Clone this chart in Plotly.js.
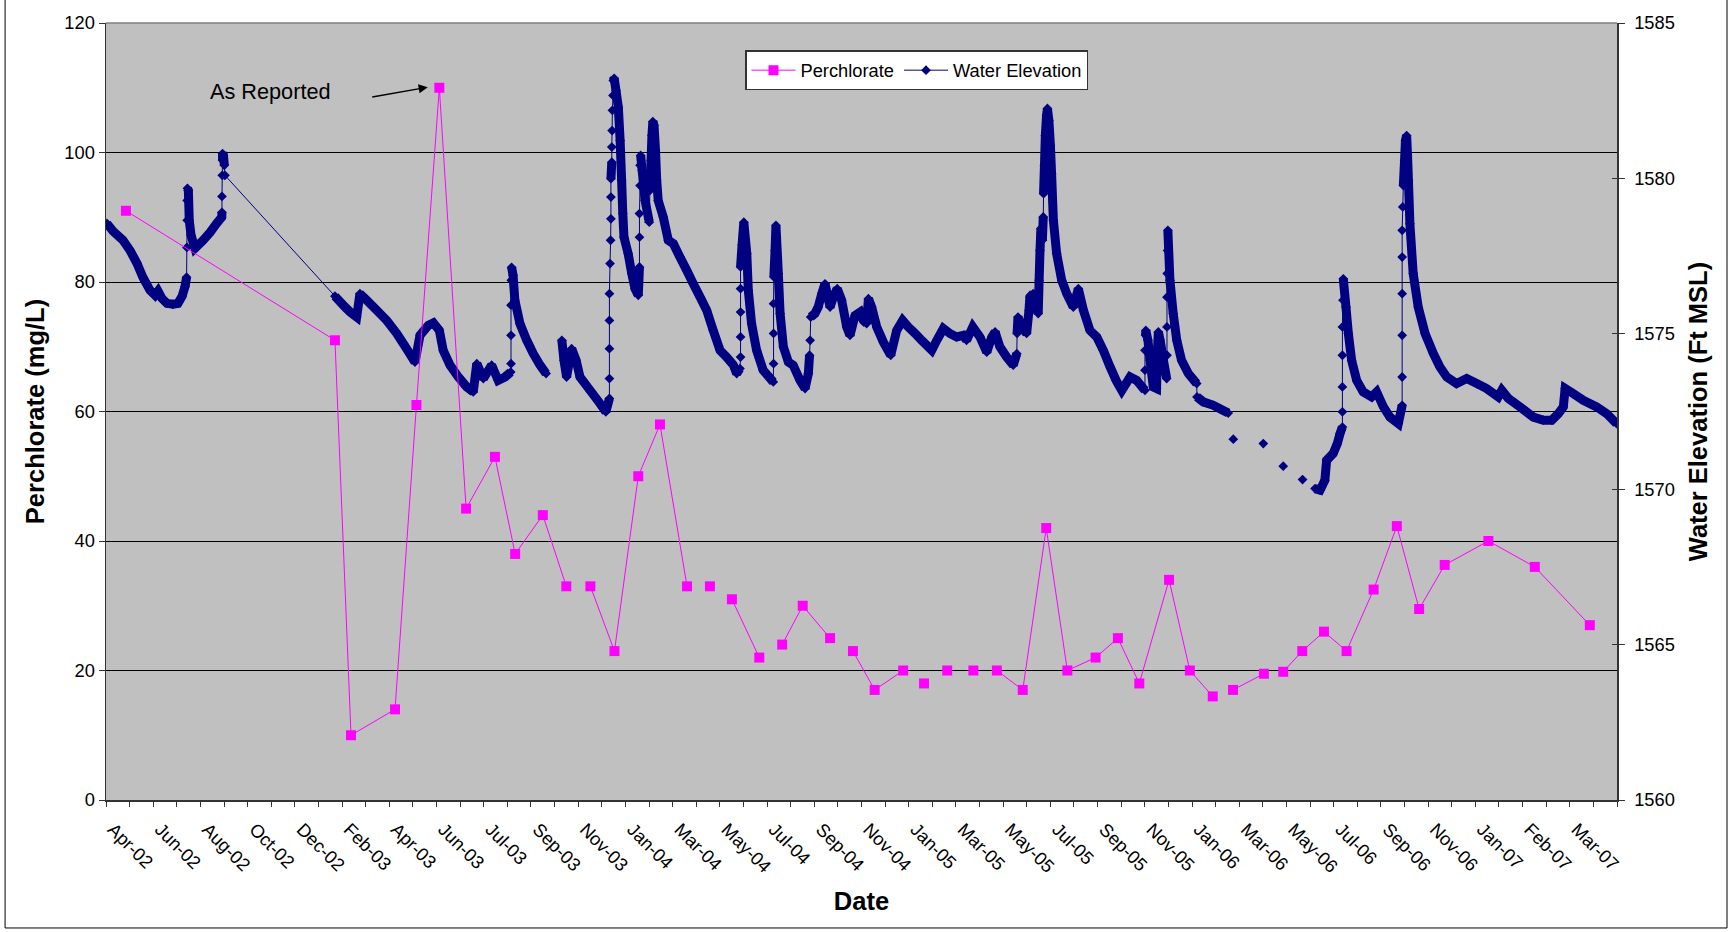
<!DOCTYPE html>
<html>
<head>
<meta charset="utf-8">
<script src="https://cdn.plot.ly/plotly-3.0.1.min.js"></script>
<style>
html,body{margin:0;padding:0;background:#ffffff;}
#chart{width:1732px;height:932px;}
</style>
</head>
<body>
<div id="chart"></div>
<script>
// ---------- axis definition (date axis expressed in decimal years) ----------
const axisStartYear = 2002.277;          // left edge of the date axis
const tickStepYears = 29 / 365.25;       // one tick mark every 29 days
const tickCount = 64;                    // tick intervals across the axis

const dateLabels = ['Apr-02','Jun-02','Aug-02','Oct-02','Dec-02','Feb-03','Apr-03','Jun-03',
  'Jul-03','Sep-03','Nov-03','Jan-04','Mar-04','May-04','Jul-04','Sep-04','Nov-04','Jan-05',
  'Mar-05','May-05','Jul-05','Sep-05','Nov-05','Jan-06','Mar-06','May-06','Jul-06','Sep-06',
  'Nov-06','Jan-07','Feb-07','Mar-07'];

const perchTicks = [0, 20, 40, 60, 80, 100, 120];
const elevTicks = [1560, 1565, 1570, 1575, 1580, 1585];

// ---------- Perchlorate (mg/L), null = break in the line ----------
const perchYear = [2002.344, 2003.047, 2003.101, 2003.249, 2003.321, 2003.398, 2003.488, 2003.585,
  2003.653, 2003.746, 2003.825, null, 2003.906, 2003.987, 2004.067, 2004.140, 2004.231, null,
  2004.308, null, 2004.382, 2004.474, null, 2004.551, 2004.620, 2004.712, null, 2004.789,
  2004.862, 2004.958, null, 2005.028, null, 2005.106, null, 2005.194, null, 2005.273, 2005.360,
  2005.439, 2005.510, 2005.605, 2005.680, 2005.752, 2005.852, 2005.922, 2005.999, null,
  2006.067, 2006.171, null, 2006.236, 2006.300, 2006.373, 2006.449, 2006.540, 2006.618,
  2006.693, 2006.779, 2006.926, 2007.082, 2007.267];
const perchValue = [91, 71, 10, 14, 61, 110, 45, 53,
  38, 44, 33, null, 33, 23, 50, 58, 33, null,
  33, null, 31, 22, null, 24, 30, 25, null, 23,
  17, 20, null, 18, null, 20, null, 20, null, 20, 17,
  42, 20, 22, 25, 18, 34, 20, 16, null,
  17, 19.5, null, 19.8, 23, 26, 23, 32.5, 42.3,
  29.5, 36.3, 40, 36, 27];

// ---------- Water elevation (ft MSL), null = break in the line ----------
const waterYear = [
  2002.280,2002.301,2002.334,2002.358,2002.381,2002.401,2002.425,2002.442,2002.452,2002.465,
  2002.482,2002.502,2002.519,2002.533,2002.543,2002.548,2002.549,2002.550,2002.550,2002.551,
  2002.554,2002.557,2002.563,2002.576,2002.604,2002.627,2002.649,2002.666,2002.667,2002.667,
  2002.668,2002.669,2002.669,2002.672,2002.675,2002.677,2003.047,
  2003.081,2003.098,2003.120,2003.131,2003.154,2003.187,2003.221,2003.255,2003.288,2003.316,
  2003.333,2003.361,2003.378,2003.398,2003.411,2003.434,2003.462,2003.490,2003.512,2003.524,
  2003.546,2003.574,2003.596,2003.619,2003.638,2003.639,2003.639,2003.639,2003.640,2003.641,
  2003.646,2003.652,2003.669,2003.692,2003.714,2003.737,2003.757,null,
  2003.810,2003.817,2003.826,2003.843,2003.858,2003.871,2003.905,2003.938,2003.958,2003.970,
  2003.970,2003.970,2003.970,2003.970,2003.972,2003.974,2003.975,2003.975,2003.975,2003.978,
  2003.978,2003.979,2003.980,2003.982,2003.983,2003.986,2003.992,2004.000,2004.006,2004.011,
  2004.015,2004.019,2004.033,2004.045,2004.056,2004.067,2004.071,2004.071,2004.071,2004.073,
  2004.073,2004.075,2004.080,2004.090,2004.104,2004.106,2004.110,2004.113,2004.116,2004.120,
  2004.125,2004.129,2004.134,2004.151,2004.168,2004.185,2004.207,2004.230,2004.252,2004.275,
  2004.297,2004.319,2004.342,2004.364,2004.387,2004.398,2004.409,2004.411,2004.411,2004.411,
  2004.411,2004.411,2004.416,2004.422,2004.432,2004.437,2004.448,2004.465,2004.487,2004.521,
  2004.522,2004.522,2004.522,2004.523,2004.527,2004.530,2004.538,2004.544,2004.555,2004.572,
  2004.588,2004.611,2004.628,2004.639,2004.643,2004.645,2004.647,2004.661,2004.672,2004.684,
  2004.695,2004.712,2004.723,2004.736,2004.751,2004.768,2004.779,2004.796,2004.813,2004.824,
  2004.835,2004.841,2004.852,2004.869,2004.891,2004.916,2004.936,2004.956,2004.975,2004.998,
  2005.020,2005.037,2005.054,2005.071,2005.093,2005.115,2005.138,2005.160,2005.171,2005.192,
  2005.216,2005.239,2005.256,2005.267,2005.283,2005.306,2005.328,2005.340,2005.341,2005.344,
  2005.357,2005.373,2005.381,2005.384,2005.395,2005.405,2005.412,2005.415,2005.418,2005.421,
  2005.426,2005.429,2005.430,2005.433,2005.436,2005.440,2005.443,2005.448,2005.453,2005.457,
  2005.463,2005.474,2005.491,2005.508,2005.530,2005.547,2005.564,2005.586,2005.609,2005.631,
  2005.653,2005.674,2005.693,2005.721,2005.743,2005.771,2005.771,2005.771,2005.773,2005.774,
  2005.781,2005.788,2005.799,2005.810,2005.813,2005.816,2005.822,2005.833,2005.844,2005.845,
  2005.845,2005.845,2005.846,2005.847,2005.848,2005.855,2005.866,2005.878,2005.894,2005.917,
  2005.945,2005.946,2005.967,2006.001,2006.023,2006.051,null,
  2006.068,null,2006.169,null,2006.236,null,2006.301,null,
  2006.343,2006.360,2006.376,2006.382,2006.404,2006.418,2006.427,2006.435,2006.435,2006.435,
  2006.435,2006.435,2006.437,2006.438,2006.447,2006.455,2006.466,2006.483,2006.505,2006.533,
  2006.550,2006.573,2006.595,2006.623,2006.636,2006.636,2006.636,2006.636,2006.636,2006.636,
  2006.638,2006.640,2006.644,2006.647,2006.651,2006.654,2006.657,2006.662,2006.673,2006.690,
  2006.713,2006.741,2006.763,2006.786,2006.819,2006.853,2006.887,2006.920,2006.959,2006.971,
  2006.993,2007.032,2007.077,2007.111,2007.139,2007.161,2007.178,2007.184,2007.211,2007.245,
  2007.290,2007.324,2007.357];
const waterElev = [
  1578.55,1578.30,1578.01,1577.68,1577.27,1576.82,1576.40,1576.24,1576.37,1576.14,
  1575.98,1575.95,1575.98,1576.21,1576.53,1576.82,1577.78,1578.65,1579.29,1579.68,
  1579.61,1578.65,1578.17,1577.75,1578.01,1578.26,1578.55,1578.75,1578.91,1579.42,
  1580.10,1580.58,1580.80,1580.74,1580.42,1580.10,1576.21,
  1575.86,1575.70,1575.54,1576.29,1576.08,1575.76,1575.43,1575.01,1574.52,1574.09,
  1574.95,1575.27,1575.35,1575.11,1574.47,1573.99,1573.61,1573.29,1573.13,1574.04,
  1573.56,1573.99,1573.50,1573.61,1573.77,1574.04,1574.95,1575.92,1576.72,1577.14,
  1576.88,1576.08,1575.33,1574.79,1574.36,1573.99,1573.72,null,
  1574.79,1574.15,1573.61,1574.52,1574.15,1573.61,1573.18,1572.76,1572.49,1572.92,
  1573.56,1574.52,1575.43,1576.29,1577.26,1578.01,1578.70,1579.40,1579.99,1580.52,
  1581.01,1581.54,1582.19,1582.67,1583.15,1583.22,1582.83,1582.29,1581.22,1579.94,
  1578.87,1578.11,1577.58,1576.94,1576.45,1576.24,1577.15,1578.11,1578.87,1579.77,
  1580.42,1580.74,1580.26,1579.29,1578.59,1579.61,1580.58,1581.38,1581.83,1581.70,
  1580.90,1579.94,1579.29,1578.76,1578.01,1577.90,1577.47,1577.04,1576.61,1576.18,
  1575.76,1575.11,1574.47,1574.25,1573.99,1573.72,1573.88,1574.25,1574.90,1575.70,
  1576.45,1577.15,1577.85,1578.59,1577.58,1576.40,1575.33,1574.47,1573.83,1573.45,
  1574.04,1575.01,1575.97,1576.83,1577.68,1578.49,1576.94,1575.65,1574.58,1574.09,
  1573.99,1573.50,1573.24,1573.72,1574.31,1574.79,1575.54,1575.65,1575.86,1576.29,
  1576.61,1575.86,1576.18,1576.45,1576.08,1575.22,1574.95,1575.59,1575.70,1575.43,
  1575.33,1576.13,1575.86,1575.22,1574.74,1574.31,1575.11,1575.43,1575.22,1575.01,
  1574.79,1574.63,1574.47,1574.79,1575.17,1575.01,1574.90,1574.95,1574.79,1575.22,
  1574.90,1574.41,1574.90,1575.06,1574.58,1574.25,1573.99,1574.36,1575.01,1575.54,
  1575.22,1575.01,1575.76,1576.18,1576.29,1575.92,1575.65,1576.72,1577.68,1578.39,
  1578.01,1578.76,1579.51,1580.42,1581.38,1582.03,1582.25,1581.86,1581.06,1580.15,
  1578.65,1577.58,1576.72,1576.29,1575.86,1576.45,1575.76,1575.11,1574.90,1574.47,
  1573.95,1573.50,1573.18,1573.61,1573.50,1573.18,1573.83,1574.47,1574.95,1575.11,
  1574.79,1574.15,1573.29,1573.24,1574.47,1575.06,1574.79,1574.15,1573.56,1574.31,
  1575.22,1576.18,1576.94,1577.68,1578.33,1576.72,1575.65,1574.79,1574.15,1573.72,
  1573.40,1572.97,1572.81,1572.70,1572.59,1572.45,null,
  1571.61,null,1571.47,null,1570.74,null,1570.31,null,
  1570.02,1569.97,1570.29,1570.93,1571.15,1571.47,1571.79,1572.00,1572.49,1573.29,
  1574.31,1575.22,1576.08,1576.77,1575.86,1575.01,1574.15,1573.50,1573.13,1572.97,
  1573.13,1572.65,1572.32,1572.11,1572.70,1573.61,1574.95,1576.29,1577.47,1578.33,
  1579.08,1579.77,1580.58,1581.22,1581.38,1580.74,1579.94,1578.54,1576.94,1575.86,
  1575.01,1574.36,1573.93,1573.61,1573.40,1573.56,1573.40,1573.24,1572.97,1573.18,
  1572.92,1572.65,1572.32,1572.22,1572.22,1572.43,1572.65,1573.24,1573.08,1572.86,
  1572.65,1572.43,1572.11];

// ---------- styling helpers ----------
const FONT = 'Liberation Sans, Arial, Helvetica, sans-serif';
const NAVY = '#000080';
const MAGENTA = '#FF00FF';
const x0 = axisStartYear;
const x1 = axisStartYear + tickCount * tickStepYears;

const xTickVals = [], xTickText = [];
for (let k = 0; k <= tickCount; k++) {
  xTickVals.push(x0 + k * tickStepYears);
  xTickText.push(k % 2 === 0 && dateLabels[k / 2] ? dateLabels[k / 2] : '');
}

// Dense logger readings render as a solid band of overlapping markers in the
// original; reproduce that band with a thick stroke, leaving thin connectors
// where readings jump quickly or are far apart in time.
const bandX = [], bandY = [];
for (let i = 0; i < waterYear.length; i++) {
  if (waterYear[i] === null) { bandX.push(null); bandY.push(null); continue; }
  bandX.push(waterYear[i]); bandY.push(waterElev[i]);
  const j = i + 1;
  if (j < waterYear.length && waterYear[j] !== null) {
    const dt = waterYear[j] - waterYear[i];
    const dz = waterElev[j] - waterElev[i];
    if (dt > 0.06 || (dt < 0.0025 && Math.abs(dz) > 0.25)) { bandX.push(null); bandY.push(null); }
  }
}

const traces = [
  { x: bandX, y: bandY, yaxis: 'y', type: 'scatter', mode: 'lines',
    line: { color: NAVY, width: 9, simplify: false }, showlegend: false, hoverinfo: 'skip' },
  { x: waterYear, y: waterElev, yaxis: 'y', type: 'scatter', mode: 'lines+markers',
    name: 'Water Elevation', legendrank: 2,
    line: { color: NAVY, width: 1, simplify: false },
    marker: { symbol: 'diamond', size: 7.5, color: NAVY } },
  { x: [], y: [], yaxis: 'y3', type: 'scatter', mode: 'lines', showlegend: false, hoverinfo: 'skip' },
  { x: perchYear, y: perchValue, yaxis: 'y2', type: 'scatter', mode: 'lines+markers',
    name: 'Perchlorate', legendrank: 1,
    line: { color: MAGENTA, width: 1 },
    marker: { symbol: 'square', size: 10, color: MAGENTA } }
];

const tickFont = { family: FONT, size: 18.3, color: '#000' };
const titleFont = { family: FONT, size: 25.5, color: '#000', weight: 'bold' };

const layout = {
  width: 1732, height: 932,
  margin: { l: 106, r: 115, t: 23, b: 132, autoexpand: false },
  paper_bgcolor: '#ffffff', plot_bgcolor: '#C0C0C0',
  font: { family: FONT, color: '#000' },
  showlegend: true,
  legend: {
    orientation: 'h', x: 0.4229, y: 0.9649, xanchor: 'left', yanchor: 'top',
    bgcolor: '#ffffff', bordercolor: '#333333', borderwidth: 1.5, itemwidth: 44,
    font: { family: FONT, size: 18.3, color: '#000' }
  },
  xaxis: {
    type: 'linear', range: [x0, x1], tickmode: 'array', tickvals: xTickVals, ticktext: xTickText,
    tickangle: 45, ticks: 'outside', ticklen: 5, tickwidth: 1, tickcolor: '#333',
    ticklabelshift: 7, ticklabelstandoff: 5,
    showline: true, linecolor: '#333333', linewidth: 1.5, showgrid: false, zeroline: false,
    tickfont: tickFont, automargin: false,
    title: { text: 'Date', font: titleFont, standoff: 16 }
  },
  yaxis: {
    side: 'right', range: [1560, 1585], tickmode: 'array', tickvals: elevTicks,
    ticks: 'outside', ticklen: 6, tickwidth: 1, tickcolor: '#333', ticklabelstandoff: 6,
    showline: true, linecolor: '#333333', linewidth: 1.5, showgrid: false, zeroline: false,
    tickfont: tickFont, automargin: false,
    title: { text: 'Water Elevation (Ft MSL)', font: titleFont, standoff: 15 }
  },
  yaxis2: {
    overlaying: 'y', side: 'left', range: [0, 120], tickmode: 'array', tickvals: perchTicks,
    ticks: 'outside', ticklen: 6, tickwidth: 1, tickcolor: '#333',
    showline: true, linecolor: '#333333', linewidth: 1.5,
    showgrid: true, gridcolor: '#000000', gridwidth: 1, zeroline: false,
    tickfont: tickFont, automargin: false,
    title: { text: 'Perchlorate (mg/L)', font: titleFont, standoff: 12 }
  },
  yaxis3: {
    overlaying: 'y', side: 'right', range: [1560, 1585], tickmode: 'array', tickvals: elevTicks,
    ticks: 'inside', ticklen: 5, tickwidth: 1, tickcolor: '#333',
    showticklabels: false, showline: false, showgrid: false, zeroline: false
  },
  annotations: [
    { xref: 'x', yref: 'y2', x: 2002.830, y: 109.46, text: 'As Reported', showarrow: false,
      xanchor: 'center', yanchor: 'middle', font: { family: FONT, size: 21.7, color: '#000' } },
    { xref: 'x', yref: 'y2', x: 2003.359, y: 110.08, text: '', showarrow: true,
      ax: -57, ay: 10, arrowhead: 2, arrowsize: 1.3, arrowwidth: 1.4, arrowcolor: '#000', standoff: 0 }
  ],
  shapes: [
    { type: 'line', xref: 'paper', yref: 'paper', x0: 0, x1: 1, y0: 1, y1: 1,
      line: { color: '#808080', width: 1.5 }, layer: 'above' },
    { type: 'rect', xref: 'paper', yref: 'paper', x0: -0.0668, x1: 1.0728, y0: -0.1647, y1: 1.0305,
      line: { color: '#000000', width: 1 }, fillcolor: 'rgba(0,0,0,0)', layer: 'above' }
  ]
};

Plotly.newPlot('chart', traces, layout, { displayModeBar: false, staticPlot: true });
</script>
</body>
</html>
